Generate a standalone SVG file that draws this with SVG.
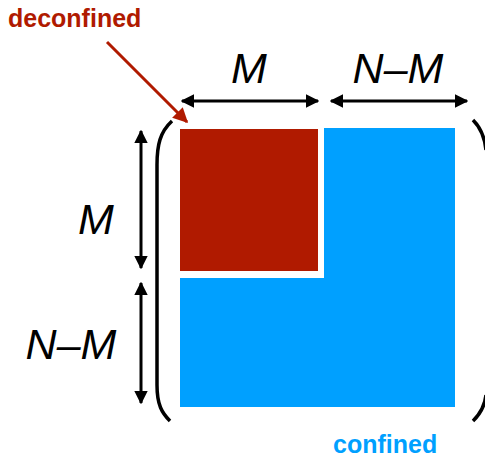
<svg xmlns="http://www.w3.org/2000/svg" width="485" height="457" viewBox="0 0 485 457">
<style>
.lbl{font-family:"Liberation Sans",Arial,sans-serif;font-style:italic;font-size:43px;fill:#000;text-anchor:middle}
.dim{stroke:#000;stroke-width:3;fill:none}
.paren{stroke:#000;stroke-width:3.5;fill:none}
</style>
<defs>
<marker id="ah" viewBox="0 0 10 10" refX="9" refY="5" markerWidth="4.5" markerHeight="4.5" orient="auto-start-reverse" markerUnits="strokeWidth">
<path d="M0,0 L10,5 L0,10 z" fill="#000"/>
</marker>
<marker id="rh" viewBox="0 0 10 10" refX="9" refY="5" markerWidth="5" markerHeight="5" orient="auto" markerUnits="strokeWidth">
<path d="M0,0 L10,5 L0,10 z" fill="#B01A00"/>
</marker>
</defs>
<g id="confined-block">
<polygon points="324,128 455,128 455,407 180,407 180,278 324,278" fill="#00A0FF"/>
</g>
<g id="deconfined-block">
<rect x="180" y="129" width="138" height="142" fill="#B01A00"/>
</g>
<g id="parens">
<path class="paren" d="M172,121 C160,132 157,145 157,165 L157,385 C157,405 162,413 170,421"/>
<path class="paren" d="M473,120 C481,128 485,140 486,150 M486,395 C485,405 481,413 473,421"/>
</g>
<g id="connectors">
<line class="dim" x1="182" y1="101" x2="318" y2="101" marker-start="url(#ah)" marker-end="url(#ah)"/>
<line class="dim" x1="331" y1="101" x2="467" y2="101" marker-start="url(#ah)" marker-end="url(#ah)"/>
<line class="dim" x1="141" y1="131" x2="141" y2="268" marker-start="url(#ah)" marker-end="url(#ah)"/>
<line class="dim" x1="141" y1="283" x2="141" y2="403" marker-start="url(#ah)" marker-end="url(#ah)"/>
<line x1="107" y1="42" x2="187" y2="122" stroke="#B01A00" stroke-width="3" marker-end="url(#rh)"/>
</g>
<g id="labels">
<text class="lbl" x="249" y="83">M</text>
<text class="lbl" x="398" y="83">N–M</text>
<text class="lbl" x="96" y="234">M</text>
<text class="lbl" x="71" y="359">N–M</text>
<text x="8" y="27" font-family="Liberation Sans,Arial,sans-serif" font-weight="bold" font-size="25" fill="#B01A00">deconfined</text>
<text x="333" y="453" font-family="Liberation Sans,Arial,sans-serif" font-weight="bold" font-size="25" fill="#00A0FF">confined</text>
</g>
</svg>
